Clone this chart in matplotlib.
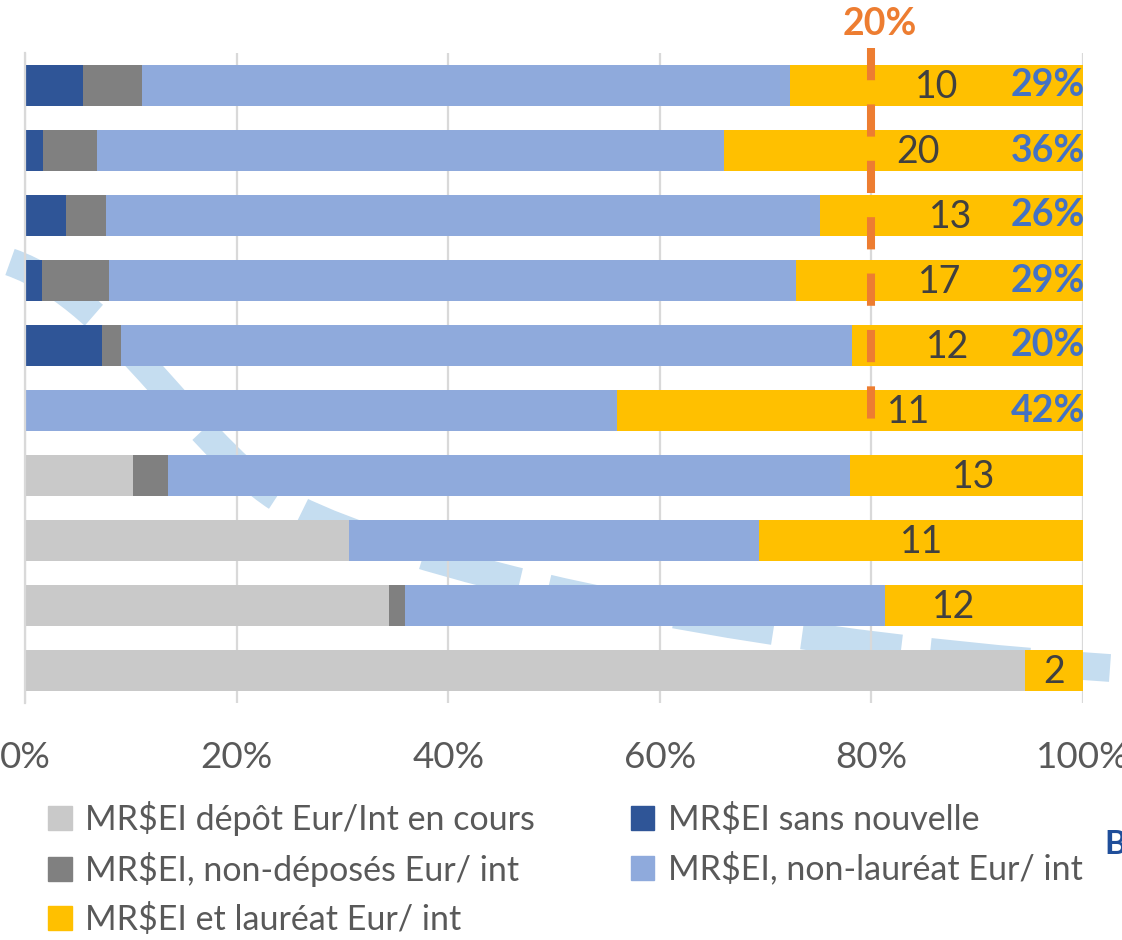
import matplotlib

matplotlib.use('agg')
import matplotlib.pyplot as plt
from matplotlib.path import Path
from matplotlib.patches import PathPatch, Patch

plt.rcParams['font.family'] = ['Lato', 'DejaVu Sans']

# shares (%) per row, top to bottom
depot = [0, 0, 0, 0, 0, 0, 10.2, 30.6, 34.4, 94.5]
sans_nouvelle = [5.5, 1.7, 3.9, 1.6, 7.3, 0, 0, 0, 0, 0]
non_deposes = [5.6, 5.1, 3.8, 6.3, 1.8, 0, 3.3, 0, 1.5, 0]
non_laureat = [61.2, 59.3, 67.4, 65.0, 69.1, 56.0, 64.5, 38.8, 45.4, 0]
laureat = [27.7, 33.9, 24.9, 27.1, 21.8, 44.0, 22.0, 30.6, 18.7, 5.5]

counts = [10, 20, 13, 17, 12, 11, 13, 11, 12, 2]
success = ['29%', '36%', '26%', '29%', '20%', '42%']
xticks = [0, 20, 40, 60, 80, 100]
threshold = 80
threshold_label = '20%'

# where the count labels sit (x, in %)
count_x = [86.2, 84.4, 87.5, 86.5, 87.2, 83.5, 89.7, 84.7, 87.8, 97.3]

series = [
    ('MR$EI dépôt Eur/Int en cours', depot, '#C9C9C9'),
    ('MR$EI sans nouvelle', sans_nouvelle, '#2F5597'),
    ('MR$EI, non-déposés Eur/ int', non_deposes, '#808080'),
    ('MR$EI, non-lauréat Eur/ int', non_laureat, '#8FAADC'),
    ('MR$EI et lauréat Eur/ int', laureat, '#FFC000'),
]

W, H = 1122, 940
fig = plt.figure(figsize=(W / 100, H / 100), dpi=100)


def px(x, y):
    return x / W, 1 - y / H


# faint decorative dashed arc in the background
verts = [px(10, 262), px(120, 300), px(200, 460), px(295, 508),
         px(400, 561), px(700, 640), px(1110, 668)]
codes = [Path.MOVETO] + [Path.CURVE4] * 6
arc = PathPatch(Path(verts, codes), transform=fig.transFigure, fill=False,
                edgecolor='#C5DDF0', lw=20, linestyle=(0, (3.6, 1.05)),
                capstyle='butt', zorder=-1)
fig.patches.append(arc)

ax = fig.add_axes([25 / W, 1 - 703 / H, (1083 - 25) / W, 650 / H])
ax.set_facecolor('none')

rows = list(range(len(counts)))
left = [0.0] * len(rows)
for name, vals, col in series:
    ax.barh(rows, vals, left=left, height=0.645, color=col, label=name, zorder=2)
    left = [l + v for l, v in zip(left, vals)]

for i, c in enumerate(counts):
    ax.text(count_x[i], i + 0.02, str(c), ha='center', va='center', fontsize=27,
            color='#404040', zorder=4)
for i, s in enumerate(success):
    ax.text(100.2, i, s, ha='right', va='center', fontsize=27,
            fontweight='bold', color='#4472C4', zorder=4)

# 20% threshold
ax.plot([threshold, threshold], [-0.58, 5.49], color='#ED7D31', lw=5.8,
        linestyle=(0, (4, 3)), solid_capstyle='butt', dash_capstyle='butt',
        clip_on=False, zorder=5)
ax.text(threshold + 0.8, -0.95, threshold_label, ha='center', va='center',
        fontsize=27, fontweight='bold', color='#ED7D31', clip_on=False)

ax.set_xlim(0, 100)
ax.set_ylim(9.5, -0.5)
ax.set_xticks(xticks)
ax.set_xticklabels([f'{t}%' for t in xticks])
ax.set_yticks([])
ax.tick_params(axis='x', length=0, pad=27, labelsize=26.5, labelcolor='#595959')
ax.grid(axis='x', color='#D9D9D9', lw=1.6, zorder=1)
ax.set_axisbelow(True)
for side in ['top', 'right', 'bottom']:
    ax.spines[side].set_visible(False)
ax.spines['left'].set_color('#D9D9D9')
ax.spines['left'].set_linewidth(1.6)

order = [0, 2, 4, 1, 3]
handles = [Patch(color=series[k][2]) for k in order]
labels = [series[k][0] for k in order]
fig.legend(handles, labels, ncol=2, loc='upper left',
           bbox_to_anchor=px(48, 801), frameon=False, fontsize=24.5,
           labelcolor='#595959', handlelength=0.7, handleheight=0.7,
           handletextpad=0.4, labelspacing=0.47, columnspacing=2.8,
           borderpad=0, borderaxespad=0)

fig.text(1104 / W, 1 - 845 / H, 'B', fontsize=24, fontweight='bold',
         color='#1F4E9A', va='center')

fig.savefig('out.png', dpi=100)
plt.close(fig)
